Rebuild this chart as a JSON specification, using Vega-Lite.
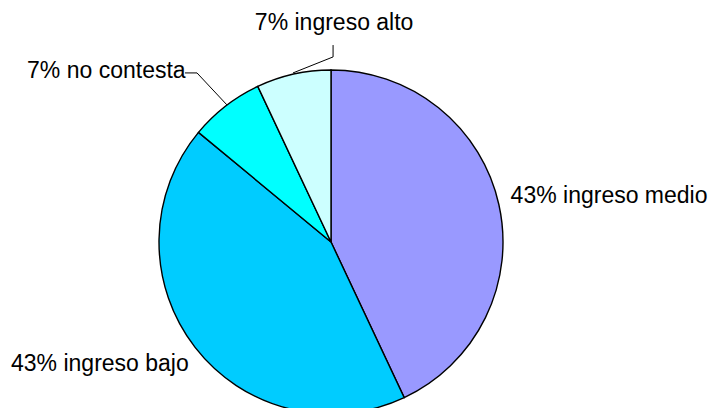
{
  "$schema": "https://vega.github.io/schema/vega-lite/v6.json",
  "width": 344,
  "height": 344,
  "autosize": {"type": "none"},
  "padding": {"left": 159, "top": 70, "right": 211, "bottom": 0},
  "background": "white",
  "config": {"view": {"stroke": null}},
  "datasets": {
    "pie": [
      {"cat": "ingreso medio", "valor": 43, "orden": 1, "label": "43% ingreso medio"},
      {"cat": "ingreso bajo", "valor": 43, "orden": 2, "label": "43% ingreso bajo"},
      {"cat": "no contesta", "valor": 7, "orden": 3, "label": "7% no contesta"},
      {"cat": "ingreso alto", "valor": 7, "orden": 4, "label": "7% ingreso alto"}
    ],
    "leaders": [
      {"leader": "no contesta", "p": 1, "x": -0.849, "y": 0.983},
      {"leader": "no contesta", "p": 2, "x": -0.779, "y": 0.983},
      {"leader": "no contesta", "p": 3, "x": -0.605, "y": 0.797},
      {"leader": "ingreso alto", "p": 1, "x": 0.012, "y": 1.145},
      {"leader": "ingreso alto", "p": 2, "x": 0.012, "y": 1.076},
      {"leader": "ingreso alto", "p": 3, "x": -0.221, "y": 0.983}
    ]
  },
  "data": {"name": "pie"},
  "layer": [
    {
      "mark": {"type": "arc", "stroke": "black", "strokeWidth": 1.4},
      "encoding": {
        "theta": {"field": "valor", "type": "quantitative", "stack": true},
        "order": {"field": "orden", "type": "quantitative"},
        "detail": {"field": "cat"},
        "color": {
          "field": "cat",
          "type": "nominal",
          "scale": {
            "domain": ["ingreso medio", "ingreso bajo", "no contesta", "ingreso alto"],
            "range": ["#9999FF", "#00CCFF", "#00FFFF", "#CCFFFF"]
          },
          "legend": null
        }
      }
    },
    {
      "mark": {"type": "text", "radius": 182, "align": "left", "baseline": "middle", "dx": 2, "dy": -6, "font": "Liberation Sans", "fontSize": 23, "color": "black"},
      "encoding": {
        "theta": {"field": "valor", "type": "quantitative", "stack": true},
        "order": {"field": "orden", "type": "quantitative"},
        "detail": {"field": "cat"},
        "text": {"condition": {"test": "datum.cat === 'ingreso medio'", "field": "label"}, "value": ""}
      }
    },
    {
      "mark": {"type": "text", "radius": 180, "align": "right", "baseline": "middle", "dy": 12, "font": "Liberation Sans", "fontSize": 23, "color": "black"},
      "encoding": {
        "theta": {"field": "valor", "type": "quantitative", "stack": true},
        "order": {"field": "orden", "type": "quantitative"},
        "detail": {"field": "cat"},
        "text": {"condition": {"test": "datum.cat === 'ingreso bajo'", "field": "label"}, "value": ""}
      }
    },
    {
      "mark": {"type": "text", "radius": 216, "align": "right", "baseline": "middle", "dx": -13, "font": "Liberation Sans", "fontSize": 23, "color": "black"},
      "encoding": {
        "theta": {"field": "valor", "type": "quantitative", "stack": true},
        "order": {"field": "orden", "type": "quantitative"},
        "detail": {"field": "cat"},
        "text": {"condition": {"test": "datum.cat === 'no contesta'", "field": "label"}, "value": ""}
      }
    },
    {
      "mark": {"type": "text", "radius": 224, "align": "center", "baseline": "middle", "dx": 52, "font": "Liberation Sans", "fontSize": 23, "color": "black"},
      "encoding": {
        "theta": {"field": "valor", "type": "quantitative", "stack": true},
        "order": {"field": "orden", "type": "quantitative"},
        "detail": {"field": "cat"},
        "text": {"condition": {"test": "datum.cat === 'ingreso alto'", "field": "label"}, "value": ""}
      }
    },
    {
      "data": {"name": "leaders"},
      "mark": {"type": "line", "color": "black", "strokeWidth": 1},
      "encoding": {
        "x": {"field": "x", "type": "quantitative", "scale": {"domain": [-1, 1], "nice": false, "zero": false}, "axis": null},
        "y": {"field": "y", "type": "quantitative", "scale": {"domain": [-1, 1], "nice": false, "zero": false}, "axis": null},
        "detail": {"field": "leader"},
        "order": {"field": "p", "type": "quantitative"}
      }
    }
  ]
}
